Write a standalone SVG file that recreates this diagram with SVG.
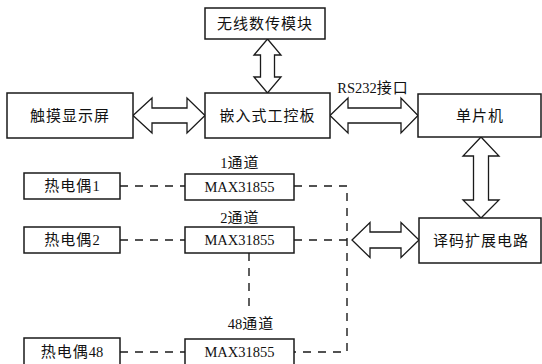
<svg xmlns="http://www.w3.org/2000/svg" width="542" height="364" viewBox="0 0 542 364">
<style>
.box{fill:#fff;stroke:#1a1a1a;stroke-width:1.5}
.arr{fill:#fff;stroke:#1a1a1a;stroke-width:1.3;stroke-linejoin:miter}
.dash{fill:none;stroke:#1a1a1a;stroke-width:1.4;stroke-dasharray:8 7}
.t{font-family:"Liberation Serif","Noto Sans CJK SC",serif;font-size:15px;letter-spacing:1px;fill:#111;text-anchor:middle}
.m{font-size:14.5px;letter-spacing:0}
</style>
<rect width="542" height="364" fill="#fff"/>
<g id="connectors">
<path class="arr" d="M267.5,39 L281,55 L274.5,55 L274.5,77 L281,77 L267.5,93 L254,77 L260.5,77 L260.5,55 L254,55 Z"/>
<path class="arr" d="M133,115.5 L152,98 L152,108 L187,108 L187,98 L205,115.5 L187,133 L187,123 L152,123 L152,133 Z"/>
<path class="arr" d="M330,115.5 L348,98 L348,108 L401,108 L401,98 L418,115.5 L401,133 L401,123 L348,123 L348,133 Z"/>
<path class="arr" d="M481,137 L499,156 L488.5,156 L488.5,200 L499,200 L481,218 L463,200 L473.5,200 L473.5,156 L463,156 Z"/>
<path class="arr" d="M352,240 L370,222.5 L370,232 L401,232 L401,222.5 L419,240 L401,257.5 L401,248 L370,248 L370,257.5 Z"/>
<path class="dash" d="M120,186 H185 M120,240 H185 M120,352 H185"/>
<path class="dash" d="M294,186 H347 V352 H294 M294,240 H347"/>
<path class="dash" d="M249,253 V308"/>
<text class="t" x="373" y="93"><tspan class="m">RS232</tspan>接口</text>
<text class="t" x="240" y="168"><tspan class="m">1</tspan>通道</text>
<text class="t" x="240" y="223"><tspan class="m">2</tspan>通道</text>
<text class="t" x="251" y="329"><tspan class="m">48</tspan>通道</text>
</g>
<g id="wireless"><rect class="box" x="205" y="8" width="120" height="31"/><text class="t" x="265" y="29">无线数传模块</text></g>
<g id="touch"><rect class="box" x="7" y="93" width="126" height="45"/><text class="t" x="70" y="121">触摸显示屏</text></g>
<g id="board"><rect class="box" x="205" y="93" width="125" height="45"/><text class="t" x="267.5" y="121">嵌入式工控板</text></g>
<g id="mcu"><rect class="box" x="418" y="94" width="123" height="43"/><text class="t" x="480" y="121">单片机</text></g>
<g id="decoder"><rect class="box" x="419" y="218" width="122" height="45"/><text class="t" x="481" y="246">译码扩展电路</text></g>
<g id="tc1"><rect class="box" x="24" y="173" width="96" height="26"/><text class="t" x="72" y="191">热电偶<tspan class="m">1</tspan></text></g>
<g id="tc2"><rect class="box" x="24" y="227" width="96" height="26"/><text class="t" x="72" y="245">热电偶<tspan class="m">2</tspan></text></g>
<g id="tc48"><rect class="box" x="24" y="338" width="96" height="30"/><text class="t" x="72" y="357">热电偶<tspan class="m">48</tspan></text></g>
<g id="max1"><rect class="box" x="185" y="174" width="109" height="26"/><text class="t m" x="239.5" y="192">MAX31855</text></g>
<g id="max2"><rect class="box" x="185" y="227" width="109" height="26"/><text class="t m" x="239.5" y="245">MAX31855</text></g>
<g id="max48"><rect class="box" x="185" y="339" width="109" height="30"/><text class="t m" x="239.5" y="357">MAX31855</text></g>
</svg>
